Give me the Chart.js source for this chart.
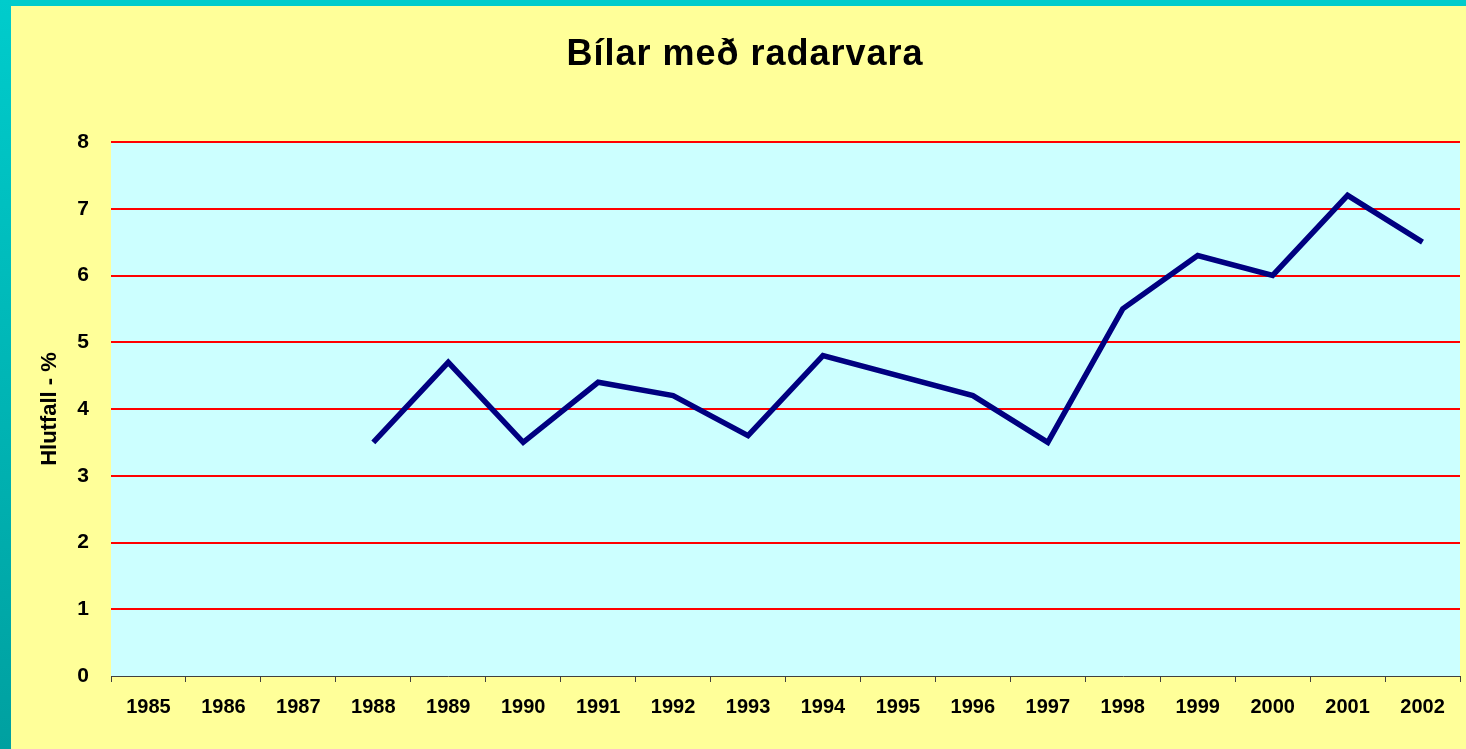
<!DOCTYPE html>
<html>
<head>
<meta charset="utf-8">
<script src="https://cdn.jsdelivr.net/npm/chart.js@4/dist/chart.umd.min.js"></script>
<style>
    html, body { margin: 0; padding: 0; background: #FFFF99; overflow: hidden; }
    #wrap { width: 1466px; height: 749px; position: relative; }
</style>
</head>
<body>
<div id="wrap"><canvas id="radarChart"></canvas></div>
<script>
const chartTitle = "Bílar með radarvara";
const yTitle = "Hlutfall - %";
const years = ["1985", "1986", "1987", "1988", "1989", "1990", "1991", "1992", "1993",
    "1994", "1995", "1996", "1997", "1998", "1999", "2000", "2001", "2002"];
// 1995 has no reading, the line just runs on from 1994 to 1996
const shares = [null, null, null, 3.5, 4.7, 3.5, 4.4, 4.2, 3.6,
    4.8, null, 4.2, 3.5, 5.5, 6.3, 6.0, 7.2, 6.5];
const yTicks = [0, 1, 2, 3, 4, 5, 6, 7, 8];

const backdrop = {
    id: "backdrop",
    beforeDraw(chart) {
        const ctx = chart.ctx;
        const area = chart.chartArea;
        ctx.save();
        ctx.fillStyle = "#FFFF99";
        ctx.fillRect(0, 0, chart.width, chart.height);
        ctx.fillStyle = "#00CCCC";
        ctx.fillRect(0, 0, chart.width, 6);
        const grad = ctx.createLinearGradient(0, 0, 0, chart.height);
        grad.addColorStop(0, "#00CCCC");
        grad.addColorStop(1, "#00A0A0");
        ctx.fillStyle = grad;
        ctx.fillRect(0, 0, 11, chart.height);
        ctx.fillStyle = "#CCFFFF";
        ctx.fillRect(area.left, area.top, area.right - area.left, area.bottom - area.top);
        ctx.restore();
    },
    afterDraw(chart) {
        const ctx = chart.ctx;
        ctx.save();
        ctx.fillStyle = "#000000";
        ctx.font = "bold 36px Arial, 'Liberation Sans', sans-serif";
        ctx.letterSpacing = "1px";
        ctx.textAlign = "center";
        ctx.textBaseline = "alphabetic";
        ctx.fillText(chartTitle, 745, 65);
        ctx.restore();
    }
};

const ctx = document.getElementById("radarChart").getContext("2d");

new Chart(ctx, {
    type: "line",
    data: {
        labels: years,
        datasets: [{
            data: shares,
            borderColor: "#000080",
            borderWidth: 5.5,
            pointRadius: 0,
            tension: 0,
            spanGaps: true,
            borderJoinStyle: "miter"
        }]
    },
    options: {
        responsive: true,
        maintainAspectRatio: false,
        animation: false,
        layout: { padding: { left: 11, right: 6, top: 142, bottom: 0 } },
        plugins: {
            legend: { display: false },
            title: { display: false },
            tooltip: { enabled: false }
        },
        scales: {
            x: {
                offset: true,
                grid: {
                    offset: true,
                    drawOnChartArea: false,
                    drawTicks: true,
                    tickLength: 6,
                    color: "#404040"
                },
                border: { display: true, color: "#404040", width: 1 },
                ticks: {
                    color: "#000000",
                    padding: 13,
                    maxRotation: 0,
                    autoSkip: false,
                    font: { family: "Arial, 'Liberation Sans', sans-serif", size: 20, weight: "bold" }
                },
                afterFit(scale) { scale.height = 73; }
            },
            y: {
                min: 0,
                max: 8,
                afterBuildTicks(scale) { scale.ticks = yTicks.map(v => ({ value: v })); },
                grid: {
                    drawTicks: false,
                    lineWidth: 2,
                    color: c => (c.tick && c.tick.value === 0) ? "rgba(0,0,0,0)" : "#FF0000"
                },
                border: { display: false },
                ticks: {
                    color: "#000000",
                    padding: 22,
                    font: { family: "Arial, 'Liberation Sans', sans-serif", size: 21, weight: "bold" }
                },
                title: {
                    display: true,
                    text: yTitle,
                    color: "#000000",
                    padding: { top: 26, bottom: 0 },
                    font: { family: "Arial, 'Liberation Sans', sans-serif", size: 22, weight: "bold" }
                },
                afterFit(scale) { scale.width = 100; }
            }
        }
    },
    plugins: [backdrop]
});
</script>
</body>
</html>
